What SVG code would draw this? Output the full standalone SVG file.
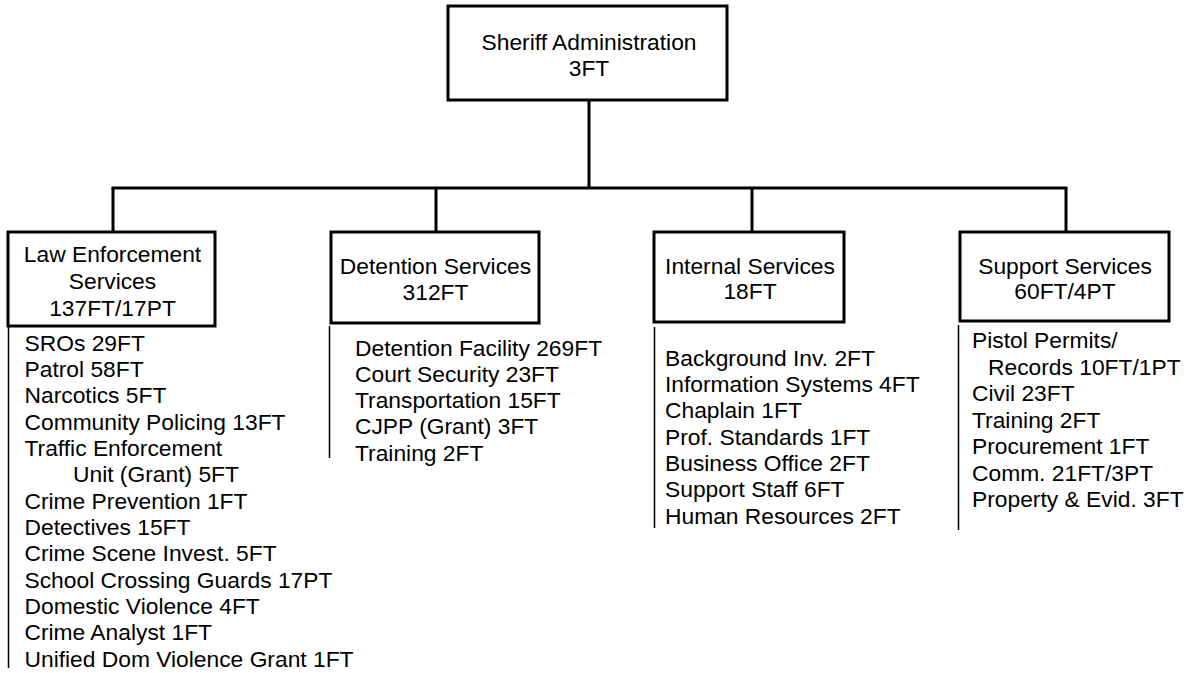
<svg xmlns="http://www.w3.org/2000/svg" width="1192" height="673" viewBox="0 0 1192 673">
<style>
.box{fill:#fff;stroke:#000;stroke-width:3}
.con{fill:none;stroke:#000;stroke-width:3}
.side{fill:none;stroke:#000;stroke-width:1.5}
text{font-family:"Liberation Sans",Arial,sans-serif;font-size:22.8px;fill:#000}
.c{text-anchor:middle}
</style>
<rect width="1192" height="673" fill="#fff"/>
<g id="connectors">
<line class="con" x1="589" y1="100" x2="589" y2="188"/>
<line class="con" x1="111.5" y1="188" x2="1067.5" y2="188"/>
<line class="con" x1="113" y1="188" x2="113" y2="232"/>
<line class="con" x1="436" y1="188" x2="436" y2="232"/>
<line class="con" x1="752" y1="188" x2="752" y2="232"/>
<line class="con" x1="1066" y1="188" x2="1066" y2="232"/>
</g>
<g id="sheriff">
<rect class="box" x="448" y="6" width="279" height="94"/>
<text class="c" x="589" y="50">Sheriff Administration</text>
<text class="c" x="589" y="76">3FT</text>
</g>
<g id="law">
<rect class="box" x="8" y="232" width="207" height="94"/>
<text class="c" x="112.5" y="262">Law Enforcement</text>
<text class="c" x="112.5" y="288.5">Services</text>
<text class="c" x="112.5" y="315.5">137FT/17PT</text>
</g>
<g id="law-list">
<line class="side" x1="8.5" y1="326" x2="8.5" y2="668"/>
<text x="24.5" y="350.5">SROs 29FT</text>
<text x="24.5" y="376.9">Patrol 58FT</text>
<text x="24.5" y="403.2">Narcotics 5FT</text>
<text x="24.5" y="429.6">Community Policing 13FT</text>
<text x="24.5" y="455.9">Traffic Enforcement</text>
<text x="73" y="482.3">Unit (Grant) 5FT</text>
<text x="24.5" y="508.6">Crime Prevention 1FT</text>
<text x="24.5" y="535">Detectives 15FT</text>
<text x="24.5" y="561.3">Crime Scene Invest. 5FT</text>
<text x="24.5" y="587.7">School Crossing Guards 17PT</text>
<text x="24.5" y="614">Domestic Violence 4FT</text>
<text x="24.5" y="640.4">Crime Analyst 1FT</text>
<text x="24.5" y="666.7">Unified Dom Violence Grant 1FT</text>
</g>
<g id="detention">
<rect class="box" x="331" y="232" width="208" height="91"/>
<text class="c" x="435.5" y="274">Detention Services</text>
<text class="c" x="435.5" y="300">312FT</text>
</g>
<g id="detention-list">
<line class="side" x1="329.5" y1="326" x2="329.5" y2="458"/>
<text x="355" y="355.7">Detention Facility 269FT</text>
<text x="355" y="381.9">Court Security 23FT</text>
<text x="355" y="408.1">Transportation 15FT</text>
<text x="355" y="434.3">CJPP (Grant) 3FT</text>
<text x="355" y="460.5">Training 2FT</text>
</g>
<g id="internal">
<rect class="box" x="654" y="232" width="190" height="90"/>
<text class="c" x="750" y="274">Internal Services</text>
<text class="c" x="750" y="299">18FT</text>
</g>
<g id="internal-list">
<line class="side" x1="654.5" y1="327" x2="654.5" y2="528"/>
<text x="665" y="365.7">Background Inv. 2FT</text>
<text x="665" y="392">Information Systems 4FT</text>
<text x="665" y="418.4">Chaplain 1FT</text>
<text x="665" y="444.7">Prof. Standards 1FT</text>
<text x="665" y="471">Business Office 2FT</text>
<text x="665" y="497.3">Support Staff 6FT</text>
<text x="665" y="523.7">Human Resources 2FT</text>
</g>
<g id="support">
<rect class="box" x="960" y="232" width="209" height="89"/>
<text class="c" x="1065" y="274">Support Services</text>
<text class="c" x="1065" y="299">60FT/4PT</text>
</g>
<g id="support-list">
<line class="side" x1="958.5" y1="325" x2="958.5" y2="530"/>
<text x="972" y="348.3">Pistol Permits/</text>
<text x="988" y="374.8">Records 10FT/1PT</text>
<text x="972" y="401.3">Civil 23FT</text>
<text x="972" y="427.8">Training 2FT</text>
<text x="972" y="454.3">Procurement 1FT</text>
<text x="972" y="480.8">Comm. 21FT/3PT</text>
<text x="972" y="507.3">Property &amp; Evid. 3FT</text>
</g>
</svg>
